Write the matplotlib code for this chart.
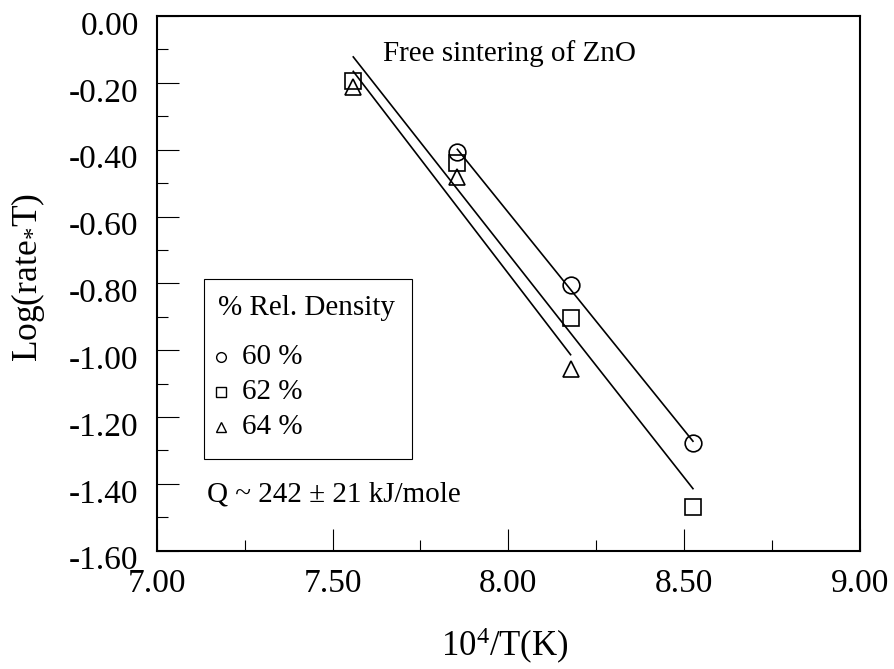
import numpy as np
import matplotlib
matplotlib.use("Agg")
import matplotlib.pyplot as plt
from matplotlib.ticker import MultipleLocator, FormatStrFormatter
from matplotlib.patches import Rectangle
from matplotlib.lines import Line2D
import matplotlib.transforms as mtransforms

plt.rcParams['font.family'] = ['Liberation Serif', 'DejaVu Serif']
plt.rcParams['mathtext.fontset'] = 'custom'
plt.rcParams['mathtext.rm'] = 'Liberation Serif'
plt.rcParams['mathtext.it'] = 'Liberation Serif:italic'

# ---- data ----
x60 = [7.855, 8.177, 8.525]
y60 = [-0.406, -0.805, -1.279]
x62 = [7.559, 7.855, 8.177, 8.525]
y62 = [-0.194, -0.439, -0.903, -1.468]
x64 = [7.559, 7.855, 8.177]
y64 = [-0.213, -0.481, -1.057]
labels = ["60 %", "62 %", "64 %"]
markers = ["o", "s", "^"]
legend_title = "% Rel. Density"
title_text = "Free sintering of ZnO"
q_text = "Q ~ 242 \u00b1 21 kJ/mole"
xlabel = "10$^{4}$/T(K)"
ylabel = "Log(rate$_{*}$T)"

W, H = 894, 669
fig = plt.figure(figsize=(W / 100, H / 100), dpi=100)
L, R, T, B = 156.7, 860.0, 16.0, 550.7
ax = fig.add_axes([L / W, 1 - B / H, (R - L) / W, (B - T) / H])

series = [(x60, y60), (x62, y62), (x64, y64)]
for (xs, ys), m in zip(series, markers):
    ax.plot(xs, ys, linestyle='none', marker=m, markersize=12,
            markerfacecolor='none', markeredgecolor='black', markeredgewidth=1.2)
    xs_a = np.array(xs); ys_a = np.array(ys)
    k, b = np.polyfit(xs_a, ys_a, 1)
    xf = np.array([xs_a.min(), xs_a.max()])
    ax.plot(xf, k * xf + b, color='black', linewidth=1.2)

ax.set_xlim(7.0, 9.0)
ax.set_ylim(-1.6, 0.0)
ax.xaxis.set_major_locator(MultipleLocator(0.5))
ax.xaxis.set_minor_locator(MultipleLocator(0.25))
ax.yaxis.set_major_locator(MultipleLocator(0.2))
ax.yaxis.set_minor_locator(MultipleLocator(0.1))
ax.xaxis.set_major_formatter(FormatStrFormatter('%.2f'))
ax.yaxis.set_major_formatter(FormatStrFormatter('%.2f'))
ax.tick_params(which='both', direction='in', top=False, right=False,
               labelsize=24, pad=13, color='black', width=0.8)
ax.tick_params(which='major', length=16)
ax.tick_params(which='minor', length=7.7)
for s in ax.spines.values():
    s.set_linewidth(1.5)

# shift y tick labels slightly down like reference
off = mtransforms.ScaledTranslation(0, -5 / 72, fig.dpi_scale_trans)
for lab in ax.get_yticklabels():
    lab.set_transform(lab.get_transform() + off)

def fx(px):
    return px / W

def fy(py):
    return 1 - py / H

fig.text(fx(28), fy(277), ylabel, rotation=90, ha='center', va='center', fontsize=25.5)
fig.text(fx(504.7), fy(656.7), xlabel, ha='center', va='baseline', fontsize=25)

fig.text(fx(382.7), fy(60.7), title_text, ha='left', va='baseline', fontsize=21)
fig.text(fx(207), fy(494), q_text, ha='left', va='center', fontsize=21)

# manual legend
fig.add_artist(Rectangle((fx(204.3), fy(459)), (411.7 - 204.3) / W, (459 - 279.3) / H,
                         transform=fig.transFigure, facecolor='white',
                         edgecolor='black', linewidth=0.8))
fig.text(fx(218), fy(308), legend_title, ha='left', va='center', fontsize=21)
rows = [357, 392, 427]
for lab, m, ry in zip(labels, markers, rows):
    fig.add_artist(Line2D([fx(221)], [fy(ry)], transform=fig.transFigure, marker=m,
                          markersize=7, markerfacecolor='none', markeredgecolor='black',
                          markeredgewidth=1.0, linestyle='none'))
    fig.text(fx(241.7), fy(ry), lab, ha='left', va='center', fontsize=21)

fig.savefig("out.png", dpi=100)
